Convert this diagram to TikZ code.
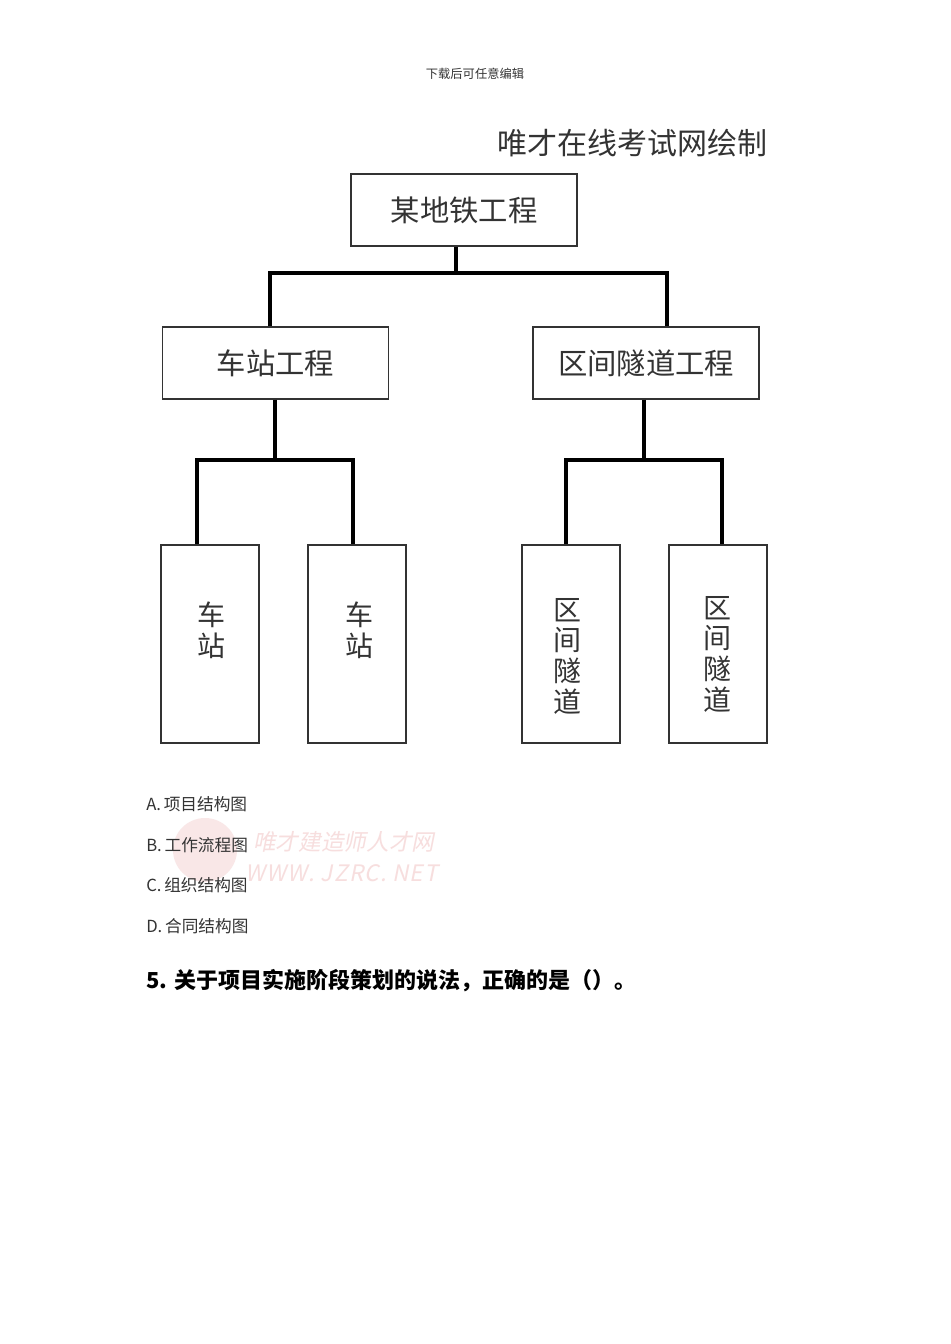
\documentclass[tikz,border=0pt]{standalone}
\usepackage{fontspec}
\setmainfont{Noto Sans CJK SC}
\newfontfamily\cjkslant[FakeSlant=0.2]{Noto Sans CJK SC}
\usetikzlibrary{calc}
\definecolor{ink}{HTML}{333333}
\definecolor{wm}{HTML}{F7DEDE}
\begin{document}
\begin{tikzpicture}[x=0.75pt,y=-0.75pt,
  box/.style={draw=ink,line width=1.1pt,inner sep=0pt,minimum width=169.5pt,minimum height=54pt,font=\fontsize{22}{26}\selectfont,text=ink},
  tallbox/.style={draw=ink,line width=1.1pt,inner sep=0pt,minimum width=73.5pt,minimum height=148.5pt},
  vlabel/.style={font=\fontsize{21}{23}\selectfont,text=ink,align=center,inner sep=0pt},
  conn/.style={line width=2.7pt,black},
  opt/.style={anchor=west,font=\fontsize{12.5}{14}\selectfont,text=ink,inner sep=0pt}]
\useasboundingbox (0,0) rectangle (950,1344);
\fill[white] (0,0) rectangle (950,1344);
% header
\node[font=\fontsize{9.2}{11}\selectfont,text=ink] (hdr) at (475,74) {下载后可任意编辑};
\node[font=\fontsize{22.5}{25}\selectfont,text=ink,anchor=west,inner sep=0pt] (ttl) at (497,143) {唯才在线考试网绘制};
% boxes
\node[box] (top) at (464,210) {某地铁工程};
\node[box] (st) at (275.5,363) {车站工程};
\node[box] (qj) at (646,363) {区间隧道工程};
\node[tallbox] (b1) at (210,644) {};
\node[tallbox] (b2) at (357,644) {};
\node[tallbox] (b3) at (571,644) {};
\node[tallbox] (b4) at (718,644) {};
\node[vlabel] (l1) at (211,630) {车\\站};
\node[vlabel] (l2) at (359,630) {车\\站};
\node[vlabel] (l3) at (567,656) {区\\间\\隧\\道};
\node[vlabel] (l4) at (717,654) {区\\间\\隧\\道};
% connectors
\coordinate (j1) at (456,273);
\coordinate (jl) at (270,273);
\coordinate (jr) at (667,273);
\draw[conn] (j1 |- top.south) -- (j1);
\draw[conn] (st.north -| jl) -- (jl) -- (jr) -- (jr |- qj.north);
\coordinate (j2) at (275,460);
\coordinate (j2l) at (197,460);
\coordinate (j2r) at (353,460);
\draw[conn] (j2 |- st.south) -- (j2);
\draw[conn] (b1.north -| j2l) -- (j2l) -- (j2r) -- (j2r |- b2.north);
\coordinate (j3) at (644,460);
\coordinate (j3l) at (566,460);
\coordinate (j3r) at (722,460);
\draw[conn] (j3 |- qj.south) -- (j3);
\draw[conn] (b3.north -| j3l) -- (j3l) -- (j3r) -- (j3r |- b4.north);
% watermark
\fill[wm,opacity=0.7] (205,850) circle (32);
\node[font=\fontsize{17}{18}\selectfont\cjkslant,text=wm,anchor=west,inner sep=0pt] (wm1) at (253,842) {唯才建造师人才网};
\node[font=\fontsize{17}{18}\selectfont\cjkslant,text=wm,anchor=west,inner sep=0pt] (wm2) at (245,873) {W\kern1ptW\kern1ptW\kern1pt.\kern4ptJ\kern1ptZ\kern1ptR\kern1ptC\kern1pt.\kern4ptN\kern1ptE\kern1ptT};
% options
\node[opt] (oa) at (146,804) {A.\,项目结构图};
\node[opt] (ob) at (146,845) {B.\,工作流程图};
\node[opt] (oc) at (146,885) {C.\,组织结构图};
\node[opt] (od) at (146,926) {D.\,合同结构图};
\node[anchor=west,font=\fontsize{16.5}{19}\bfseries,inner sep=0pt] (q5) at (146,981) {5. 关于项目实施阶段策划的说法，正确的是（）。};
\end{tikzpicture}
\end{document}
